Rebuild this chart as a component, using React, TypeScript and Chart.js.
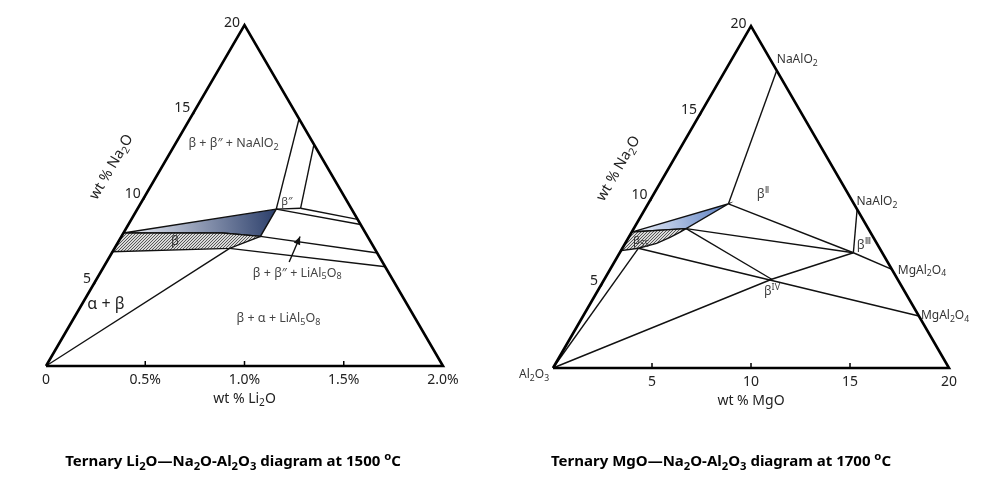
import React, { useEffect, useRef } from "react";
import { Chart, registerables } from "chart.js";
Chart.register(...registerables);

type P = [number, number];

const FONT = '"Noto Sans", "DejaVu Sans", sans-serif';
const NA_MAX = 20; // wt% Na2O at the apex of both diagrams

// ---------- Left: Li2O–Na2O–Al2O3 at 1500 °C   points = [wt% Li2O, wt% Na2O] ----------
const leftLi2OMax = 2.0;
const leftBottomTicks = [0, 0.5, 1.0, 1.5, 2.0];
const leftBottomTickLabels = ["0", "0.5%", "1.0%", "1.5%", "2.0%"];
const leftNa2OTicks = [5, 10, 15, 20];
const leftNa2OTickLabels = ["5", "10", "15", "20"];
const leftBlueRegion: P[] = [[0, 7.8], [0.7, 9.2], [0.7, 7.6], [0.5, 7.8]];
const leftHatchRegion: P[] = [[0, 7.8], [0.5, 7.8], [0.7, 7.6], [0.58, 6.9], [0, 6.7]];
const leftTieLines: P[][] = [
  [[0.7, 9.2], [0.55, 14.5]],
  [[0.82, 9.25], [0.7, 13.0]],
  [[0.7, 9.2], [0.82, 9.25]],
  [[0.82, 9.25], [1.14, 8.6]],
  [[0.7, 9.2], [1.17, 8.3]],
  [[0.7, 7.6], [1.34, 6.63]],
  [[0.58, 6.9], [1.42, 5.82]],
  [[0, 0], [0.58, 6.9]],
];
const leftArrow: P[] = [[0.92, 6.1], [0.9, 7.6]];
const leftLabelTexts = ["β + β″ + NaAlO_2", "β″", "β", "β + β″ + LiAl_5O_8", "β + α + LiAl_5O_8", "α + β"];
const leftLabelAt: P[] = [[0.29, 13.1], [0.73, 9.68], [0.28, 7.39], [0.99, 5.51], [1.03, 2.82], [0.117, 3.7]];

// ---------- Right: MgO–Na2O–Al2O3 at 1700 °C   points = [wt% MgO, wt% Na2O] ----------
const rightMgOMax = 20;
const rightBottomTicks = [0, 5, 10, 15, 20];
const rightBottomTickLabels = ["", "5", "10", "15", "20"];
const rightNa2OTicks = [5, 10, 15, 20];
const rightNa2OTickLabels = ["5", "10", "15", "20"];
const rightBlueRegion: P[] = [[0, 7.95], [4.06, 9.6], [2.65, 8.15]];
const rightHatchRegion: P[] = [[0, 7.95], [2.65, 8.15], [2.45, 7.94], [2.09, 7.64], [1.59, 7.29], [0.81, 7.0], [0, 6.86]];
const rightTieLines: P[][] = [
  [[4.06, 9.6], [2.6, 17.4]],
  [[4.06, 9.6], [11.8, 6.74]],
  [[2.65, 8.15], [11.8, 6.74]],
  [[2.65, 8.15], [8.45, 5.19]],
  [[0.81, 7.0], [16.96, 3.04]],
  [[0, 0], [8.45, 5.19], [11.8, 6.74]],
  [[0, 0], [0.81, 7.0]],
  [[11.8, 6.74], [10.72, 9.28]],
  [[11.8, 6.74], [14.23, 5.77]],
];
const rightLabelTexts = ["NaAlO_2", "β^{Ⅱ}", "NaAlO_2", "β^{Ⅲ}", "MgAl_2O_4", "MgAl_2O_4", "β^{IV}", "β_{SS}", "Al_2O_3"];
const rightLabelAt: P[] = [[3.3, 18.07], [5.49, 10.23], [11.47, 9.78], [12.08, 7.25], [15.75, 5.77], [18.25, 3.1], [8.78, 4.56], [0.7, 7.49], [-0.78, -0.35]];

type Spec = {
  maxA: number;
  bottomTicks: number[];
  bottomTickLabels: string[];
  naTicks: number[];
  naTickLabels: string[];
  blue: P[];
  hatch: P[];
  lines: P[][];
  arrow?: P[];
  labelTexts: string[];
  labelAt: P[];
  labelSizes: number[];
  labelColors: string[];
  axisTitle: string;
  title: string;
  titleX: number;
  padding: { left: number; right: number; top: number; bottom: number };
  blueFrom: string;
  blueTo: string;
};

function parseRich(s: string) {
  const out: { t: string; m: number }[] = [];
  let buf = "";
  let i = 0;
  while (i < s.length) {
    const ch = s[i];
    if (ch === "_" || ch === "^") {
      if (buf) { out.push({ t: buf, m: 0 }); buf = ""; }
      let t = "";
      if (s[i + 1] === "{") {
        const j = s.indexOf("}", i + 2);
        t = s.slice(i + 2, j);
        i = j + 1;
      } else {
        t = s[i + 1];
        i += 2;
      }
      out.push({ t, m: ch === "_" ? 1 : 2 });
    } else {
      buf += ch;
      i++;
    }
  }
  if (buf) out.push({ t: buf, m: 0 });
  return out;
}

function drawRich(ctx: CanvasRenderingContext2D, s: string, x: number, y: number, size: number,
  opts: { align?: string; color?: string; weight?: string; ratio?: number } = {}) {
  const parts = parseRich(s);
  const w = opts.weight || "normal";
  const r = opts.ratio || 0.72;
  const fontFor = (m: number) => `${w} ${m ? size * r : size}px ${FONT}`;
  let total = 0;
  const widths = parts.map((p) => {
    ctx.font = fontFor(p.m);
    const ww = ctx.measureText(p.t).width;
    total += ww;
    return ww;
  });
  let cx = x;
  if (opts.align === "center" || !opts.align) cx = x - total / 2;
  else if (opts.align === "right") cx = x - total;
  const base = y + size * 0.36;
  ctx.fillStyle = opts.color || "#111";
  ctx.textBaseline = "alphabetic";
  ctx.textAlign = "left";
  parts.forEach((p, i) => {
    ctx.font = fontFor(p.m);
    const dy = p.m === 1 ? size * 0.22 : p.m === 2 ? -size * 0.4 : 0;
    ctx.fillText(p.t, cx, base + dy);
    cx += widths[i];
  });
}

function makeHatch(): CanvasPattern | string {
  const c = document.createElement("canvas");
  const s = 3;
  c.width = s;
  c.height = s;
  const g = c.getContext("2d");
  if (!g) return "#bbb";
  g.fillStyle = "#d9d9d9";
  g.fillRect(0, 0, s, s);
  g.strokeStyle = "#4a4a4a";
  g.lineWidth = 0.9;
  g.beginPath();
  g.moveTo(-1, s + 1); g.lineTo(s + 1, -1);
  g.moveTo(-1, 1); g.lineTo(1, -1);
  g.moveTo(s - 1, s + 1); g.lineTo(s + 1, s - 1);
  g.stroke();
  return g.createPattern(c, "repeat") || "#bbb";
}

function makeChart(canvas: HTMLCanvasElement, s: Spec) {
  const conv = (p: P) => ({ x: p[0] / s.maxA + p[1] / NA_MAX / 2, y: p[1] / NA_MAX });
  const closed = (pts: P[]) => [...pts, pts[0]].map(conv);
  const hatch = makeHatch();
  const base = { showLine: true, pointRadius: 0, pointHoverRadius: 0, clip: false as any, tension: 0, borderColor: "#111", borderWidth: 1.4 };
  const triangle: P[] = [[0, 0], [s.maxA, 0], [0, NA_MAX]];
  const datasets: any[] = [];
  datasets.push({ ...base, data: closed(triangle), borderColor: "#000", borderWidth: 2.6, order: 0 });
  s.lines.forEach((l) => datasets.push({ ...base, data: l.map(conv), order: 1 }));
  if (s.arrow) datasets.push({ ...base, data: s.arrow.map(conv), order: 1 });
  datasets.push({ ...base, data: closed(s.hatch), fill: "shape", backgroundColor: hatch, order: 2 });
  datasets.push({
    ...base,
    data: closed(s.blue),
    fill: "shape",
    order: 2,
    backgroundColor: (c: any) => {
      const chart = c.chart;
      if (!chart.chartArea) return "rgba(0,0,0,0)";
      const xs = chart.scales.x, ys = chart.scales.y;
      const pix = s.blue.map((p) => { const q = conv(p); return { x: xs.getPixelForValue(q.x), y: ys.getPixelForValue(q.y) }; });
      let a = pix[0], b = pix[0];
      pix.forEach((p) => { if (p.x < a.x) a = p; if (p.x > b.x) b = p; });
      const g = chart.ctx.createLinearGradient(a.x, a.y, b.x, b.y + 8);
      g.addColorStop(0, s.blueFrom);
      g.addColorStop(1, s.blueTo);
      return g;
    },
  });

  const decor = {
    id: "ternaryDecor",
    afterDraw(chart: any) {
      const ctx: CanvasRenderingContext2D = chart.ctx;
      const xs = chart.scales.x, ys = chart.scales.y;
      const px = (p: P) => { const q = conv(p); return { x: xs.getPixelForValue(q.x), y: ys.getPixelForValue(q.y) }; };
      ctx.save();
      // bottom ticks
      ctx.strokeStyle = "#000";
      ctx.lineWidth = 1.5;
      s.bottomTicks.forEach((t, i) => {
        const p = px([t, 0]);
        if (t > 0 && t < s.maxA) {
          ctx.beginPath(); ctx.moveTo(p.x, p.y); ctx.lineTo(p.x, p.y - 5); ctx.stroke();
        }
        if (s.bottomTickLabels[i]) drawRich(ctx, s.bottomTickLabels[i], p.x, p.y + 13, 14, { color: "#222" });
      });
      // Na2O ticks on left edge
      s.naTicks.forEach((t, i) => {
        const p = px([0, t]);
        if (t < NA_MAX) {
          ctx.beginPath(); ctx.moveTo(p.x, p.y); ctx.lineTo(p.x - 1.5, p.y + 4); ctx.stroke();
        }
        drawRich(ctx, s.naTickLabels[i], p.x - 4.5, p.y - 3, 14, { align: "right", color: "#222" });
      });
      // axis titles
      const bl = px([0, 0]), br = px([s.maxA, 0]);
      drawRich(ctx, s.axisTitle, (bl.x + br.x) / 2, bl.y + 32, 14, { color: "#222" });
      const na = px([-0.13 * s.maxA, 0.585 * NA_MAX]);
      ctx.save();
      ctx.translate(na.x, na.y);
      ctx.rotate(-Math.PI / 3);
      drawRich(ctx, "wt % Na_2O", 0, 0, 14.5, { color: "#222" });
      ctx.restore();
      // region labels
      s.labelTexts.forEach((t, i) => {
        const p = px(s.labelAt[i]);
        drawRich(ctx, t, p.x, p.y, s.labelSizes[i], { color: s.labelColors[i] });
      });
      // arrow head
      if (s.arrow) {
        const a = px(s.arrow[0]), b = px(s.arrow[s.arrow.length - 1]);
        const ang = Math.atan2(b.y - a.y, b.x - a.x);
        const L = 8, W = 3.5;
        ctx.fillStyle = "#111";
        ctx.beginPath();
        ctx.moveTo(b.x, b.y);
        ctx.lineTo(b.x - L * Math.cos(ang) + W * Math.sin(ang), b.y - L * Math.sin(ang) - W * Math.cos(ang));
        ctx.lineTo(b.x - L * Math.cos(ang) - W * Math.sin(ang), b.y - L * Math.sin(ang) + W * Math.cos(ang));
        ctx.closePath();
        ctx.fill();
      }
      // figure title
      drawRich(ctx, s.title, s.titleX, 461, 15, { color: "#000", weight: "bold", ratio: 0.75 });
      ctx.restore();
    },
  };

  return new Chart(canvas, {
    type: "scatter",
    data: { datasets },
    options: {
      responsive: false,
      animation: false,
      layout: { padding: s.padding },
      scales: {
        x: { type: "linear", min: 0, max: 1, display: false },
        y: { type: "linear", min: 0, max: 1, display: false },
      },
      plugins: { legend: { display: false }, tooltip: { enabled: false } },
      events: [],
    } as any,
    plugins: [decor],
  });
}

const leftSpec: Spec = {
  maxA: leftLi2OMax,
  bottomTicks: leftBottomTicks,
  bottomTickLabels: leftBottomTickLabels,
  naTicks: leftNa2OTicks,
  naTickLabels: leftNa2OTickLabels,
  blue: leftBlueRegion,
  hatch: leftHatchRegion,
  lines: leftTieLines,
  arrow: leftArrow,
  labelTexts: leftLabelTexts,
  labelAt: leftLabelAt,
  labelSizes: [12.5, 11, 13, 12.5, 12.5, 16],
  labelColors: ["#444", "#444", "#333", "#444", "#444", "#222"],
  axisTitle: "wt % Li_2O",
  title: "Ternary Li_2O—Na_2O-Al_2O_3 diagram at 1500 ^oC",
  titleX: 233,
  padding: { left: 46, right: 55, top: 25, bottom: 115 },
  blueFrom: "#f1f4fb",
  blueTo: "#2c3f6b",
};

const rightSpec: Spec = {
  maxA: rightMgOMax,
  bottomTicks: rightBottomTicks,
  bottomTickLabels: rightBottomTickLabels,
  naTicks: rightNa2OTicks,
  naTickLabels: rightNa2OTickLabels,
  blue: rightBlueRegion,
  hatch: rightHatchRegion,
  lines: rightTieLines,
  labelTexts: rightLabelTexts,
  labelAt: rightLabelAt,
  labelSizes: [12, 13, 12, 13, 12, 12, 12.5, 11.5, 12],
  labelColors: ["#333", "#444", "#333", "#444", "#333", "#333", "#444", "#333", "#333"],
  axisTitle: "wt % MgO",
  title: "Ternary MgO—Na_2O-Al_2O_3 diagram at 1700 ^oC",
  titleX: 223,
  padding: { left: 55, right: 47, top: 26, bottom: 113 },
  blueFrom: "#f3f6fc",
  blueTo: "#5b7fc2",
};

function Diagram({ spec, left }: { spec: Spec; left: number }) {
  const ref = useRef<HTMLCanvasElement>(null);
  useEffect(() => {
    if (!ref.current) return;
    const chart = makeChart(ref.current, spec);
    return () => chart.destroy();
  }, [spec]);
  return (
    <canvas
      ref={ref}
      width={498}
      height={481}
      style={{ position: "absolute", left, top: 0, width: 498, height: 481 }}
    />
  );
}

export default function App() {
  return (
    <div style={{ position: "fixed", left: 0, top: 0, width: 996, height: 481, background: "#fff" }}>
      <Diagram spec={leftSpec} left={0} />
      <Diagram spec={rightSpec} left={498} />
    </div>
  );
}
